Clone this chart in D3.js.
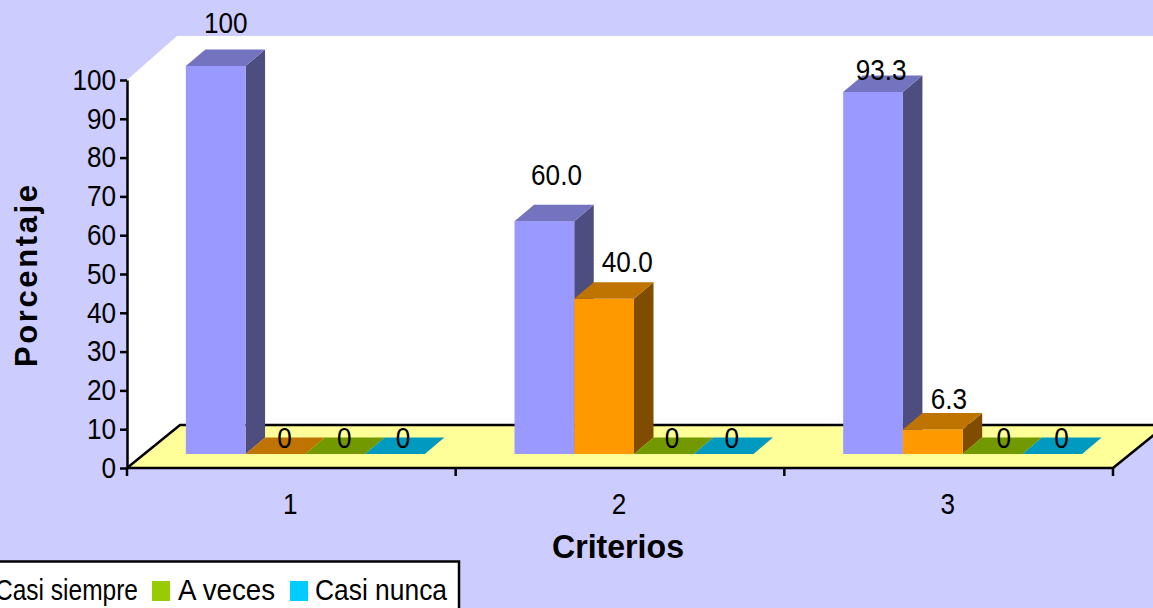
<!DOCTYPE html>
<html><head><meta charset="utf-8">
<script src="https://cdn.jsdelivr.net/npm/d3@7"></script>
<style>html,body{margin:0;padding:0;background:#CCCCFF;overflow:hidden}svg{display:block}text{font-family:"Liberation Sans",Arial,sans-serif;fill:#000}</style>
</head><body><svg id="c" width="1153" height="608"></svg>
<script>
const categories = ["1","2","3"];
const seriesNames = ["Siempre","Casi siempre","A veces","Casi nunca"];
const siempre = [100,60,93.3];
const casiSiempre = [0,40,6.3];
const aVeces = [0,0,0];
const casiNunca = [0,0,0];
const yTicks = [0,10,20,30,40,50,60,70,80,90,100];
const seriesValues = [siempre,casiSiempre,aVeces,casiNunca];
const palette = [
 {front:"#9999FF",top:"#7373BF",side:"#4D4D80"},
 {front:"#FF9900",top:"#BF7300",side:"#804D00"},
 {front:"#99CC00",top:"#739900",side:"#4D6600"},
 {front:"#00CCFF",top:"#0099BF",side:"#006680"}];
// hand-placed label nudges of the original [dx from bar left, dy above bar top], by series then category
const labelNudge = [
 [[40,33],[42,36],[38,12]],
 [[39,6],[53,27],[46,21]],
 [[39,6],[38,6],[41,6]],
 [[38,6],[38,6],[39,6]]];

const svg = d3.select("#c");
const L=127,R=1113,T=80,B=468, fdx=53,fdy=43, dx=19.5,dy=16.5, lift=14, FS=29, SQ=0.9;
const y = d3.scaleLinear().domain([0,100]).range([B,T]);
const x0 = d3.scaleBand().domain(categories).range([L,R]);
const x1 = d3.scaleBand().domain(seriesNames).range([0,239]);
const groupX = c => x0(c)+(x0.bandwidth()-239)/2+14;
const poly = (pts,fill,stroke) => svg.append("polygon").attr("points",pts.map(p=>p.join(",")).join(" ")).attr("fill",fill).attr("stroke",stroke||"none");
// the original text is narrow and tall: set each text to a target width
const fit = (sel,w) => sel.each(function(){
  const t=d3.select(this); t.attr("font-size",FS).style("font-family",'"Liberation Sans"').attr("fill","#000");
  t.attr("textLength",w!=null?w:this.getComputedTextLength()*SQ).attr("lengthAdjust","spacingAndGlyphs");
});

// walls
poly([[L,T],[L+50,36],[1153,36],[1153,B-fdy],[L+fdx,B-fdy],[L,B]],"#fff");
// floor
poly([[L,B],[L+fdx,B-fdy],[R+fdx,B-fdy],[R,B]],"#FFFF99");
svg.append("path").attr("d",`M${L},${B}L${L+fdx},${B-fdy}H1153M${L},${B}H${R}L${R+fdx},${B-fdy}`).attr("fill","none").attr("stroke","#000").attr("stroke-width",2.5);

// bars
seriesNames.forEach((s,si)=>{
  categories.forEach((c,ci)=>{
    const v = seriesValues[si][ci], xl = groupX(c)+x1(s), w = x1.bandwidth();
    const yb = y(0)-lift, yt = y(v)-lift, col = palette[si];
    if(v>0){
      poly([[xl+w,yt],[xl+w+dx,yt-dy],[xl+w+dx,yb-dy],[xl+w,yb]],col.side);
      svg.append("rect").attr("x",xl).attr("y",yt).attr("width",w).attr("height",yb-yt).attr("fill",col.front);
    }
    poly([[xl,yt],[xl+dx,yt-dy],[xl+w+dx,yt-dy],[xl+w,yt]],col.top);
  });
});
// value labels
seriesNames.forEach((s,si)=>{
  categories.forEach((c,ci)=>{
    const v = seriesValues[si][ci], xl = groupX(c)+x1(s), n = labelNudge[si][ci];
    svg.append("text").attr("x",xl+n[0]).attr("y",y(v)-lift-n[1]).attr("text-anchor","middle").attr("font-size",FS)
      .text(v===0||v===100?String(v):v.toFixed(1)).call(fit);
  });
});

// axes
const gy = svg.append("g").attr("transform",`translate(${L},0)`).call(d3.axisLeft(y).tickValues(yTicks).tickSize(7).tickSizeOuter(0).tickPadding(4));
gy.selectAll("text").attr("font-size",FS).call(fit);
gy.selectAll("line,path").attr("stroke","#000").attr("stroke-width",2.5);
const gx = svg.append("g").attr("transform",`translate(-1,${B})`).call(d3.axisBottom(x0).tickSize(0).tickPadding(25.5));
gx.select("path").remove();
gx.selectAll("text").attr("font-size",FS).call(fit);
d3.range(0,categories.length+1).forEach(i=>{
  const xt = L+i*x0.step();
  svg.append("line").attr("x1",xt).attr("x2",xt).attr("y1",B).attr("y2",B+8).attr("stroke","#000").attr("stroke-width",2.5);
});
// titles
svg.append("text").attr("x",618).attr("y",558).attr("text-anchor","middle").attr("font-size",33).attr("font-weight","bold").attr("textLength",132).attr("lengthAdjust","spacingAndGlyphs").text("Criterios");
svg.append("text").attr("transform","translate(37,276) rotate(-90)").attr("text-anchor","middle").attr("font-size",31).attr("font-weight","bold").attr("textLength",182).attr("lengthAdjust","spacing").text("Porcentaje");

// legend
svg.append("rect").attr("x",-20).attr("y",561.5).attr("width",479).attr("height",70).attr("fill","#fff").attr("stroke","#000").attr("stroke-width",2.5);
const legendX=[-290,-25,152,290], legendTextX=[-268,-5,178,315], legendTextW=[110,143,97,132];
seriesNames.forEach((s,i)=>{
  svg.append("rect").attr("x",legendX[i]).attr("y",581).attr("width",18).attr("height",20).attr("fill",palette[i].front);
  svg.append("text").attr("x",legendTextX[i]).attr("y",600).text(s).call(fit,legendTextW[i]);
});
</script></body></html>
